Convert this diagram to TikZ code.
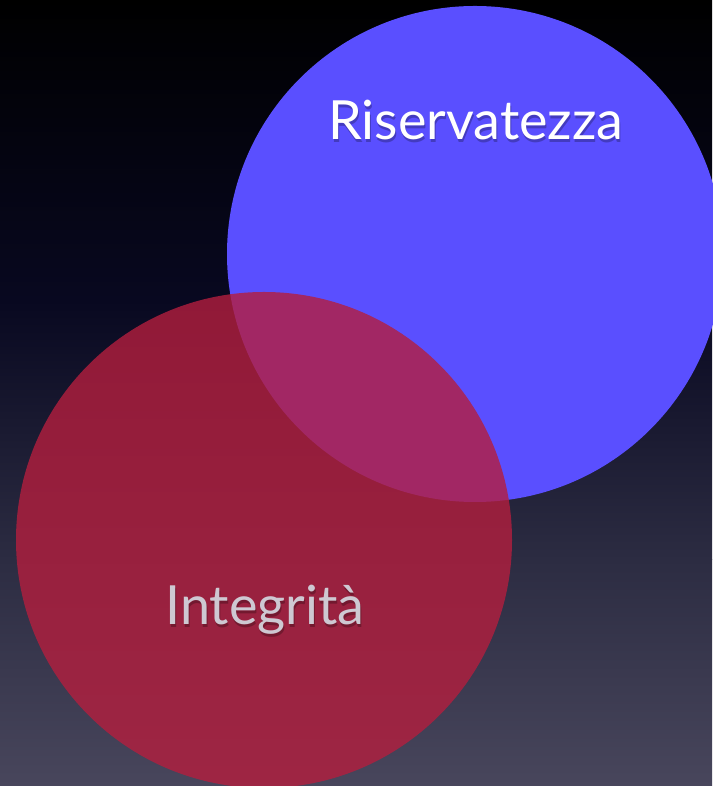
\documentclass[tikz,border=0pt]{standalone}
\usepackage{fontspec}
\setmainfont{Lato}
\usepackage{tikz}
\usetikzlibrary{positioning}

\definecolor{bgtop}{RGB}{0,0,0}
\definecolor{bgnavy}{RGB}{8,8,32}
\definecolor{bgmid}{RGB}{44,44,66}
\definecolor{bgbot}{RGB}{72,70,92}
\definecolor{riserva}{RGB}{90,79,255}
\definecolor{integra}{RGB}{180,30,62}
\definecolor{labgray}{RGB}{206,200,210}

\tikzset{
  label/.style={font=\fontsize{54}{60}\selectfont, anchor=base, inner sep=0pt},
  shadow/.style={label, black, opacity=0.25}
}

\begin{document}
\begin{tikzpicture}[x=1pt,y=1pt]
% background, dark at the top
\shade[top color=bgtop, bottom color=bgnavy] (0,486) rectangle (712,786);
\shade[top color=bgnavy, bottom color=bgmid] (0,226) rectangle (712,486.5);
\shade[top color=bgmid, bottom color=bgbot] (0,0) rectangle (712,226.5);
\useasboundingbox (0,0) rectangle (712,786);

% Riservatezza
\fill[riserva] (475,532) circle (248);
% Integrita (on top, see-through)
\fill[integra, opacity=0.8] (264,246) circle (248);

% labels
\node[shadow] (risshadow) at (477,643) {Riservatezza};
\node[label, white] (ris) at (476,646) {Riservatezza};
\node[shadow] (intshadow) at (266,158) {Integrità};
\node[label, labgray] (int) at (265,161) {Integrità};
\end{tikzpicture}
\end{document}
